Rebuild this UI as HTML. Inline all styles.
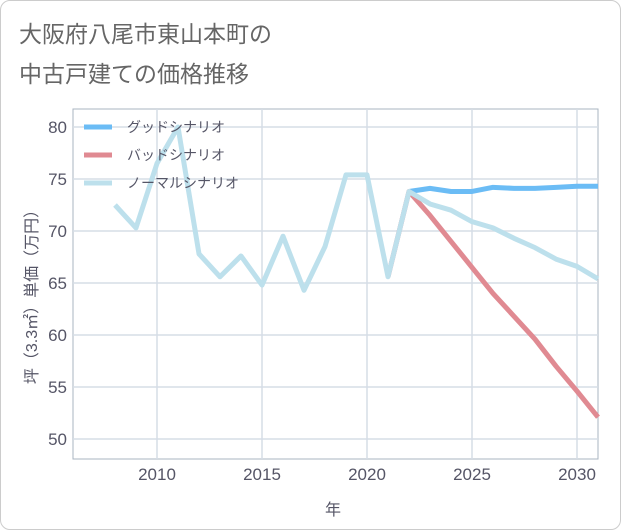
<!DOCTYPE html>
<html><head><meta charset="utf-8"><style>
body{margin:0;background:#fff;font-family:"Liberation Sans","Noto Sans CJK JP",sans-serif;}
#card{position:absolute;left:0;top:0;width:619px;height:528px;border:1px solid #ccc;border-radius:10px;background:#fff;}
.title{position:absolute;left:18px;font-size:23px;color:#666;}
</style></head><body>
<div id="card">
<div class="title" style="top:14px">大阪府八尾市東山本町の</div>
<div class="title" style="top:54px">中古戸建ての価格推移</div>
<svg id="chart" width="621" height="530" style="position:absolute;left:0;top:0"></svg>
</div>
<script>
const normalYears=[2008,2009,2010,2011,2012,2013,2014,2015,2016,2017,2018,2019,2020,2021,2022,2023,2024,2025,2026,2027,2028,2029,2030,2031];
const normalValues=[72.5,70.3,76.5,80,67.8,65.6,67.6,64.8,69.5,64.3,68.5,75.4,75.4,65.6,73.8,72.6,72.0,70.9,70.3,69.3,68.4,67.3,66.6,65.4];
const goodYears=[2022,2023,2024,2025,2026,2027,2028,2029,2030,2031];
const goodValues=[73.8,74.1,73.8,73.8,74.2,74.1,74.1,74.2,74.3,74.3];
const badYears=[2021,2022,2023,2024,2025,2026,2027,2028,2029,2030,2031];
const badValues=[65.6,73.8,71.5,69.0,66.5,64.0,61.8,59.6,57.0,54.6,52.1];
const xTicks=[2010,2015,2020,2025,2030];
const yTicks=[50,55,60,65,70,75,80];
const X0=72,X1=597,Y0=108,Y1=458;
const x=yr=>156+(yr-2010)*21;
const y=v=>438-(v-50)*10.4;
const svg=document.getElementById('chart');
const NS='http://www.w3.org/2000/svg';
function mk(t,a){const e=document.createElementNS(NS,t);for(const k in a)e.setAttribute(k,a[k]);svg.appendChild(e);return e;}
const bg=mk('rect',{x:X0,y:Y0,width:X1-X0,height:Y1-Y0,fill:'#fff',stroke:'#aab4c0','stroke-width':1});


yTicks.forEach(v=>{
 const l=mk('line',{x1:X0,x2:X1,y1:y(v),y2:y(v),stroke:'#d5dde6','stroke-width':1.5});
 
 
 const t=mk('text',{x:66,y:y(v)+6,'text-anchor':'end','font-size':17,fill:'#556'});
 t.textContent=v;
 
 
});
xTicks.forEach(v=>{
 const l=mk('line',{x1:x(v),x2:x(v),y1:Y0,y2:Y1,stroke:'#d5dde6','stroke-width':1.5});
 
 
 const t=mk('text',{x:x(v),y:479,'text-anchor':'middle','font-size':17,fill:'#556'});
 t.textContent=v;
 
 
});
function series(ys,vs,color,name){
 const p=mk('polyline',{points:ys.map((yr,i)=>x(yr)+','+y(vs[i])).join(' '),fill:'none',stroke:color,'stroke-width':5,'stroke-linejoin':'round'});
 
 
}
series(badYears,badValues,'#e08a92','bad-scenario-line');
series(goodYears,goodValues,'#6bbcf5','good-scenario-line');
series(normalYears,normalValues,'#bde0ec','normal-scenario-line');
const legend=[['グッドシナリオ','#6bbcf5'],['バッドシナリオ','#e08a92'],['ノーマルシナリオ','#bde0ec']];
legend.forEach((d,i)=>{
 const yy=126+i*28;
 const l=mk('line',{x1:83,x2:111,y1:yy,y2:yy,stroke:d[1],'stroke-width':5});
 
 
 const t=mk('text',{x:126,y:yy+5,'font-size':14,fill:'#556'});
 t.textContent=d[0];
 
 
});
const yt=mk('text',{x:0,y:0,'text-anchor':'middle','font-size':16,fill:'#556',transform:'translate(36,292) rotate(-90)'});
yt.textContent='坪（3.3㎡）単価（万円）';


const xt=mk('text',{x:332,y:514,'text-anchor':'middle','font-size':16,fill:'#556'});
xt.textContent='年';


</script>
</body></html>
